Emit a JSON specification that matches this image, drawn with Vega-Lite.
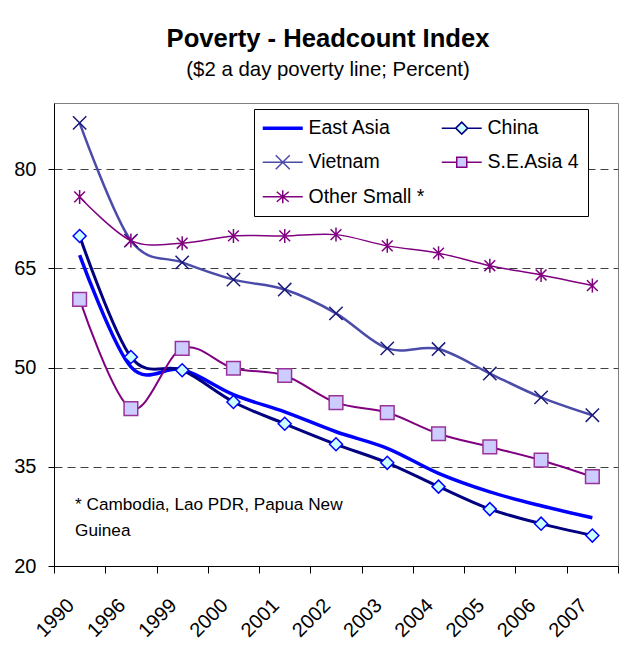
{
  "$schema": "https://vega.github.io/schema/vega-lite/v6.json",
  "width": 564,
  "height": 463,
  "autosize": {"type": "none"},
  "padding": {"left": 54, "top": 103, "right": 22, "bottom": 79},
  "background": "white",
  "title": {
    "text": "Poverty - Headcount Index",
    "subtitle": "($2 a day poverty line; Percent)",
    "anchor": "middle",
    "dx": -8,
    "offset": 23,
    "font": "Liberation Sans",
    "fontSize": 25.6,
    "fontWeight": "bold",
    "color": "#000000",
    "subtitleFont": "Liberation Sans",
    "subtitleFontSize": 20.4,
    "subtitleColor": "#000000",
    "subtitlePadding": 7
  },
  "config": {
    "view": {"stroke": "#808080", "strokeWidth": 1},
    "font": "Liberation Sans"
  },
  "data": {
    "values": [
      {"year": "1990", "series": "East Asia", "value": 67.0},
      {"year": "1996", "series": "East Asia", "value": 50.1},
      {"year": "1999", "series": "East Asia", "value": 49.7},
      {"year": "2000", "series": "East Asia", "value": 45.9},
      {"year": "2001", "series": "East Asia", "value": 43.3},
      {"year": "2002", "series": "East Asia", "value": 40.3},
      {"year": "2003", "series": "East Asia", "value": 37.8},
      {"year": "2004", "series": "East Asia", "value": 34.0},
      {"year": "2005", "series": "East Asia", "value": 31.2},
      {"year": "2006", "series": "East Asia", "value": 29.1},
      {"year": "2007", "series": "East Asia", "value": 27.3},

      {"year": "1990", "series": "China", "value": 69.9},
      {"year": "1996", "series": "China", "value": 51.6},
      {"year": "1999", "series": "China", "value": 49.6},
      {"year": "2000", "series": "China", "value": 44.8},
      {"year": "2001", "series": "China", "value": 41.5},
      {"year": "2002", "series": "China", "value": 38.4},
      {"year": "2003", "series": "China", "value": 35.6},
      {"year": "2004", "series": "China", "value": 32.0},
      {"year": "2005", "series": "China", "value": 28.6},
      {"year": "2006", "series": "China", "value": 26.4},
      {"year": "2007", "series": "China", "value": 24.6},

      {"year": "1990", "series": "Vietnam", "value": 87.0},
      {"year": "1996", "series": "Vietnam", "value": 69.2},
      {"year": "1999", "series": "Vietnam", "value": 65.9},
      {"year": "2000", "series": "Vietnam", "value": 63.3},
      {"year": "2001", "series": "Vietnam", "value": 61.8},
      {"year": "2002", "series": "Vietnam", "value": 58.2},
      {"year": "2003", "series": "Vietnam", "value": 52.9},
      {"year": "2004", "series": "Vietnam", "value": 52.8},
      {"year": "2005", "series": "Vietnam", "value": 49.1},
      {"year": "2006", "series": "Vietnam", "value": 45.5},
      {"year": "2007", "series": "Vietnam", "value": 42.8},

      {"year": "1990", "series": "S.E.Asia 4", "value": 60.3},
      {"year": "1996", "series": "S.E.Asia 4", "value": 43.8},
      {"year": "1999", "series": "S.E.Asia 4", "value": 52.9},
      {"year": "2000", "series": "S.E.Asia 4", "value": 49.9},
      {"year": "2001", "series": "S.E.Asia 4", "value": 48.8},
      {"year": "2002", "series": "S.E.Asia 4", "value": 44.7},
      {"year": "2003", "series": "S.E.Asia 4", "value": 43.2},
      {"year": "2004", "series": "S.E.Asia 4", "value": 40.0},
      {"year": "2005", "series": "S.E.Asia 4", "value": 38.0},
      {"year": "2006", "series": "S.E.Asia 4", "value": 36.0},
      {"year": "2007", "series": "S.E.Asia 4", "value": 33.5},

      {"year": "1990", "series": "Other Small *", "value": 75.8},
      {"year": "1996", "series": "Other Small *", "value": 69.2},
      {"year": "1999", "series": "Other Small *", "value": 68.8},
      {"year": "2000", "series": "Other Small *", "value": 69.9},
      {"year": "2001", "series": "Other Small *", "value": 69.9},
      {"year": "2002", "series": "Other Small *", "value": 70.1},
      {"year": "2003", "series": "Other Small *", "value": 68.4},
      {"year": "2004", "series": "Other Small *", "value": 67.3},
      {"year": "2005", "series": "Other Small *", "value": 65.4},
      {"year": "2006", "series": "Other Small *", "value": 64.0},
      {"year": "2007", "series": "Other Small *", "value": 62.4}
    ]
  },
  "layer": [
    {
      "mark": {"type": "line", "interpolate": "cardinal"},
      "encoding": {
        "x": {
          "field": "year",
          "type": "ordinal",
          "sort": null,
          "scale": {"type": "band", "paddingInner": 0, "paddingOuter": 0},
          "axis": {
            "title": null,
            "tickBand": "extent",
            "domainColor": "#000000",
            "tickColor": "#000000",
            "tickSize": 7,
            "labelAngle": -45,
            "labelAlign": "right",
            "labelBaseline": "middle",
            "labelPadding": 29,
            "labelOffset": -9,
            "labelFont": "Liberation Sans",
            "labelFontSize": 20,
            "labelColor": "#000000",
            "grid": false
          }
        },
        "y": {
          "field": "value",
          "type": "quantitative",
          "scale": {"domain": [20, 90], "nice": false, "zero": false},
          "axis": {
            "title": null,
            "values": [20, 35, 50, 65, 80],
            "domainColor": "#000000",
            "tickColor": "#000000",
            "tickSize": 6,
            "labelPadding": 12,
            "labelFont": "Liberation Sans",
            "labelFontSize": 20,
            "labelColor": "#000000",
            "grid": true,
            "gridColor": "#404040",
            "gridDash": [8, 5],
            "gridWidth": 1
          }
        },
        "color": {
          "field": "series",
          "type": "nominal",
          "sort": null,
          "scale": {
            "domain": ["East Asia", "Vietnam", "Other Small *", "China", "S.E.Asia 4"],
            "range": ["#0000FF", "#4B4BAA", "#800080", "#000080", "#800080"]
          },
          "legend": {
            "title": null,
            "orient": "none",
            "legendX": 200,
            "legendY": 6,
            "columns": 2,
            "gridAlign": "all",
            "columnPadding": 13,
            "rowPadding": 13.5,
            "padding": 9,
            "fillColor": "#FFFFFF",
            "strokeColor": "#000000",
            "labelFont": "Liberation Sans",
            "labelFontSize": 19.5,
            "labelColor": "#000000",
            "labelOffset": 26,
            "symbolSize": 400,
            "symbolStrokeWidth": 1.5,
            "encode": {
              "symbols": {
                "update": {
                  "shape": {"signal": "({'East Asia': 'M-1,0L3,0', 'China': 'M-1,0L0.4,0M1.6,0L3,0M0.4,0L1,-0.6L1.6,0L1,0.6Z', 'Vietnam': 'M-1,0L3,0M0.3,-0.7L1.7,0.7M0.3,0.7L1.7,-0.7', 'S.E.Asia 4': 'M-1,0L0.5,0M1.5,0L3,0M0.5,-0.5L1.5,-0.5L1.5,0.5L0.5,0.5Z', 'Other Small *': 'M-1,0L3,0M0.4,-0.5L1.6,0.5M0.4,0.5L1.6,-0.5M1,-0.65L1,0.65'})[datum.value]"},
                  "stroke": {"signal": "({'East Asia': '#0000FF', 'China': '#1515C8', 'Vietnam': '#3A3AA0', 'S.E.Asia 4': '#993399', 'Other Small *': '#800080'})[datum.value]"},
                  "fill": {"signal": "({'East Asia': 'transparent', 'China': '#CCFFFF', 'Vietnam': 'transparent', 'S.E.Asia 4': '#CCCCFF', 'Other Small *': 'transparent'})[datum.value]"},
                  "strokeWidth": {"signal": "datum.value === 'East Asia' ? 3.5 : 1.5"},
                  "opacity": {"value": 1}
                }
              }
            }
          }
        },
        "strokeWidth": {
          "field": "series",
          "type": "nominal",
          "scale": {
            "domain": ["East Asia", "China", "Vietnam", "S.E.Asia 4", "Other Small *"],
            "range": [3.5, 1.5, 1.5, 1.5, 1.5]
          },
          "legend": null
        }
      }
    },
    {
      "transform": [{"filter": "datum.series !== 'East Asia'"}],
      "mark": {"type": "point", "filled": false, "opacity": 1, "strokeWidth": 1.5},
      "encoding": {
        "x": {"field": "year", "type": "ordinal", "sort": null},
        "y": {"field": "value", "type": "quantitative"},
        "shape": {
          "field": "series",
          "type": "nominal",
          "scale": {
            "domain": ["China", "Vietnam", "S.E.Asia 4", "Other Small *"],
            "range": [
              "M-1,0L0,-1L1,0L0,1Z",
              "M-1,-1L1,1M-1,1L1,-1",
              "M-1,-1L1,-1L1,1L-1,1Z",
              "M-0.77,-0.77L0.77,0.77M-0.77,0.77L0.77,-0.77M0,-1L0,1"
            ]
          },
          "legend": null
        },
        "size": {
          "field": "series",
          "type": "nominal",
          "scale": {
            "domain": ["China", "Vietnam", "S.E.Asia 4", "Other Small *"],
            "range": [169, 196, 100, 169]
          },
          "legend": null
        },
        "stroke": {
          "field": "series",
          "type": "nominal",
          "scale": {
            "domain": ["China", "Vietnam", "S.E.Asia 4", "Other Small *"],
            "range": ["#0000FF", "#1A1A7A", "#993399", "#800080"]
          },
          "legend": null
        },
        "fill": {
          "field": "series",
          "type": "nominal",
          "scale": {
            "domain": ["China", "Vietnam", "S.E.Asia 4", "Other Small *"],
            "range": ["#CCFFFF", "transparent", "#CCCCFF", "transparent"]
          },
          "legend": null
        }
      }
    },
    {
      "transform": [{"aggregate": [{"op": "count", "as": "rows"}]}],
      "mark": {
        "type": "text",
        "text": "* Cambodia, Lao PDR, Papua New\nGuinea",
        "lineBreak": "\n",
        "align": "left",
        "baseline": "alphabetic",
        "font": "Liberation Sans",
        "fontSize": 17.2,
        "lineHeight": 26,
        "color": "#000000",
        "dx": -4.6
      },
      "encoding": {
        "x": {"datum": "1990"},
        "y": {"datum": 28.5}
      }
    }
  ]
}
